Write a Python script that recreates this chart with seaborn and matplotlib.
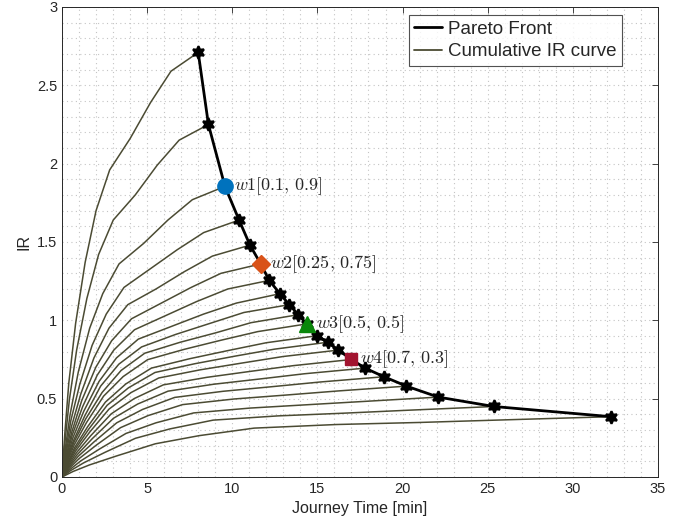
import numpy as np
import pandas as pd
import seaborn as sns
import matplotlib.pyplot as plt
from matplotlib.lines import Line2D
from matplotlib.ticker import MultipleLocator, FormatStrFormatter

# Pareto front: journey time [min] and IR of each end point
pareto_time = [8.0, 8.6, 9.57, 10.4, 11.04, 11.67, 12.17, 12.8, 13.35, 13.88, 14.37,
               15.0, 15.6, 16.23, 17.0, 17.8, 18.91, 20.23, 22.1, 25.36, 32.24]
pareto_ir = [2.71, 2.25, 1.855, 1.64, 1.48, 1.36, 1.255, 1.17, 1.10, 1.036, 0.977,
             0.902, 0.86, 0.81, 0.75, 0.695, 0.64, 0.58, 0.51, 0.45, 0.385]

# share of each journey at which the cumulative IR is sampled
time_frac = [0, 0.02, 0.05, 0.10, 0.17, 0.25, 0.35, 0.50, 0.65, 0.80, 1.0]

# cumulative IR along each journey (one list per Pareto point)
ir_curves = [
    [0, .27, .60, .98, 1.37, 1.70, 1.96, 2.16, 2.39, 2.59, 2.71],
    [0, .22, .49, .81, 1.14, 1.42, 1.64, 1.80, 1.99, 2.15, 2.25],
    [0, .18, .40, .67, .95, 1.17, 1.36, 1.49, 1.64, 1.77, 1.855],
    [0, .16, .36, .59, .84, 1.04, 1.21, 1.33, 1.45, 1.56, 1.64],
    [0, .145, .32, .53, .76, .95, 1.10, 1.20, 1.31, 1.41, 1.48],
    [0, .13, .29, .49, .70, .87, 1.01, 1.11, 1.21, 1.30, 1.36],
    [0, .12, .27, .45, .65, .81, .94, 1.03, 1.12, 1.20, 1.255],
    [0, .11, .25, .42, .61, .76, .88, .96, 1.04, 1.11, 1.17],
    [0, .11, .23, .39, .58, .72, .83, .91, .98, 1.05, 1.10],
    [0, .10, .22, .37, .54, .68, .79, .86, .92, .985, 1.036],
    [0, .093, .205, .347, .516, .641, .749, .815, .873, .928, .977],
    [0, .085, .189, .32, .478, .594, .695, .755, .807, .857, .902],
    [0, .081, .179, .304, .458, .569, .667, .723, .771, .816, .86],
    [0, .076, .168, .286, .433, .539, .632, .684, .727, .769, .81],
    [0, .07, .155, .265, .403, .501, .588, .636, .674, .711, .75],
    [0, .064, .142, .245, .375, .466, .548, .592, .625, .659, .695],
    [0, .059, .131, .225, .346, .431, .508, .547, .576, .606, .64],
    [0, .053, .118, .204, .315, .392, .462, .498, .523, .549, .58],
    [0, .046, .103, .179, .278, .346, .409, .44, .461, .482, .51],
    [0, .041, .09, .158, .247, .307, .363, .39, .407, .426, .45],
    [0, .035, .077, .135, .212, .264, .312, .335, .348, .364, .385],
]

# highlighted weightings: index into the Pareto front, label, marker, colour
w_index = [2, 5, 10, 14]
w_labels = [r'$w1[0.1,\,0.9]$', r'$w2[0.25,\,0.75]$', r'$w3[0.5,\,0.5]$', r'$w4[0.7,\,0.3]$']
w_markers = ['o', 'D', '^', 's']
w_sizes = [11, 9, 11, 9]
w_colors = ['#0072BD', '#D95319', '#0A870A', '#A2142F']

rows = []
for i, ys in enumerate(ir_curves):
    for f, y in zip(time_frac, ys):
        rows.append({'curve': i, 'time': f * pareto_time[i], 'ir': y})
curves_df = pd.DataFrame(rows)
pareto_df = pd.DataFrame({'time': pareto_time, 'ir': pareto_ir})

sns.set_style('white')
plt.rcParams['font.family'] = ['Liberation Sans', 'DejaVu Sans']
plt.rcParams['mathtext.fontset'] = 'cm'

curve_color = '#4B4B33'
axis_color = '#262626'

fig = plt.figure(figsize=(6.85, 5.29), dpi=100)
ax = fig.add_axes([0.0905, 0.0983, 0.870, 0.8885])

sns.lineplot(data=curves_df, x='time', y='ir', units='curve', estimator=None,
             color=curve_color, linewidth=1.1, sort=False, legend=False, ax=ax)
sns.lineplot(data=pareto_df, x='time', y='ir', color='black', linewidth=2.0,
             sort=False, marker=(6, 1, 0), markersize=9, markeredgecolor='black',
             markeredgewidth=1.6, legend=False, ax=ax, zorder=5)

for idx, lab, mk, ms, col in zip(w_index, w_labels, w_markers, w_sizes, w_colors):
    ax.plot(pareto_time[idx], pareto_ir[idx], marker=mk, markersize=ms, color=col,
            markeredgecolor=col, linestyle='none', zorder=6)
    ax.annotate(lab, (pareto_time[idx], pareto_ir[idx]), xytext=(6.5, 0),
                textcoords='offset points', va='center', ha='left', fontsize=13)

ax.set_xlim(0, 35)
ax.set_ylim(0, 3)
ax.xaxis.set_major_locator(MultipleLocator(5))
ax.yaxis.set_major_locator(MultipleLocator(0.5))
ax.xaxis.set_minor_locator(MultipleLocator(1))
ax.yaxis.set_minor_locator(MultipleLocator(0.1))
ax.xaxis.set_major_formatter(FormatStrFormatter('%g'))
ax.yaxis.set_major_formatter(FormatStrFormatter('%g'))
ax.grid(which='both', linestyle=(0, (1, 3)), color='#C4C4C4', linewidth=0.8)
ax.set_axisbelow(True)

ax.tick_params(which='major', direction='in', top=True, right=True, length=4,
               width=0.6, color=axis_color, labelcolor=axis_color, labelsize=10.5)
ax.tick_params(which='minor', length=0)
for sp in ax.spines.values():
    sp.set_color(axis_color)
    sp.set_linewidth(0.7)

ax.set_xlabel('Journey Time [min]', fontsize=11.5, color=axis_color)
ax.set_ylabel('IR', fontsize=11.5, color=axis_color)

handles = [Line2D([], [], color='black', linewidth=2.0),
           Line2D([], [], color=curve_color, linewidth=1.3)]
leg = ax.legend(handles, ['Pareto Front', 'Cumulative IR curve'], loc='upper right',
                bbox_to_anchor=(0.94, 0.983), fontsize=13.5, frameon=True,
                fancybox=False, handlelength=1.5, borderaxespad=0, borderpad=0.3,
                labelspacing=0.3, handletextpad=0.3)
leg.get_frame().set_edgecolor(axis_color)
leg.get_frame().set_linewidth(0.8)

fig.savefig('out.png', dpi=100)
